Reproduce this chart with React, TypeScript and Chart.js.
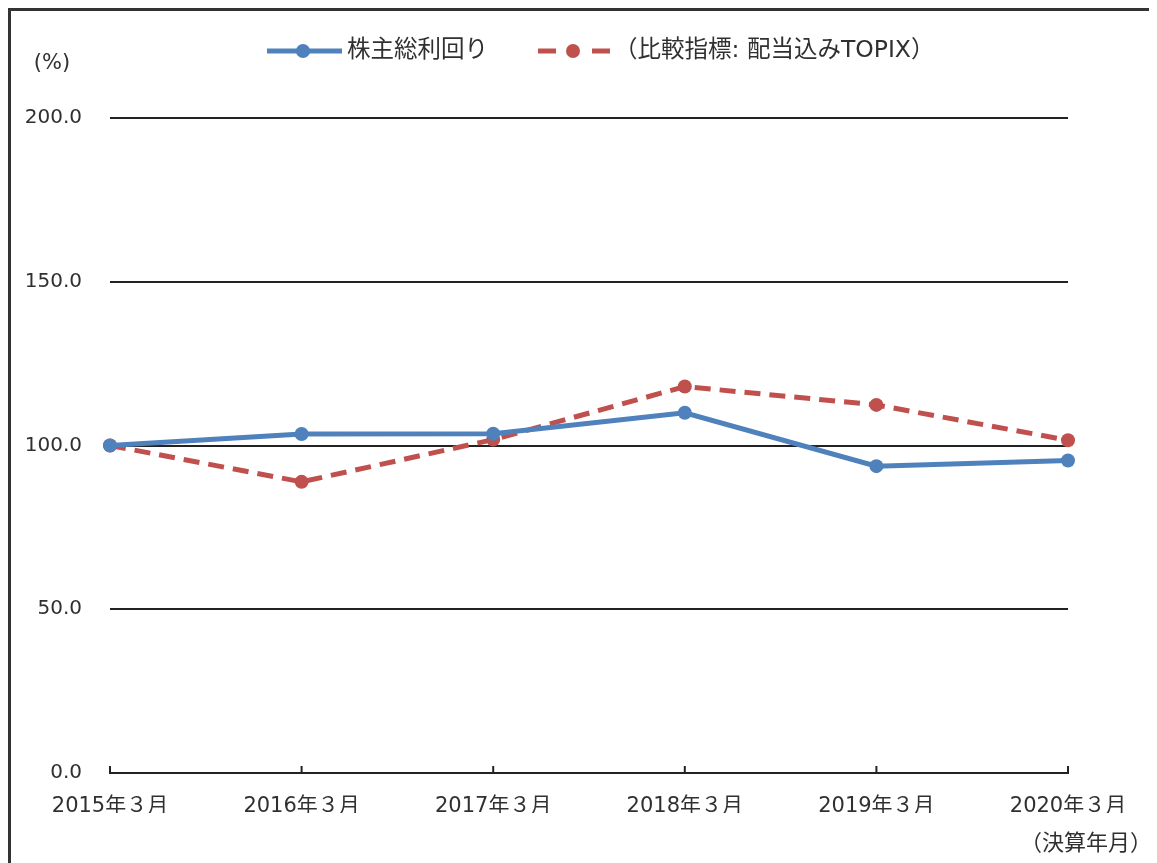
import React, { useEffect, useRef } from "react";
import { Chart, registerables } from "chart.js";

Chart.register(...registerables);

const categories = ["2015年３月", "2016年３月", "2017年３月", "2018年３月", "2019年３月", "2020年３月"];
const tsrValues = [100, 103.5, 103.6, 110.0, 93.7, 95.4];
const topixValues = [100, 88.9, 101.8, 118.0, 112.4, 101.6];
const seriesNames = ["株主総利回り", "（比較指標: 配当込みTOPIX）"];
const yTicks = [0, 50, 100, 150, 200];
const yUnitLabel = "(%)";
const xUnitLabel = "（決算年月）";

const BLUE = "#4F81BD";
const RED = "#C0504D";
const TEXT = "#303030";
const FONT = "'DejaVu Sans', 'Noto Sans CJK JP', sans-serif";

const extrasPlugin = {
  id: "extras",
  afterDraw(chart: any) {
    const ctx = chart.ctx;
    const x = chart.scales.x;
    const area = chart.chartArea;
    ctx.save();
    // upward tick marks on x axis
    ctx.strokeStyle = "#222";
    ctx.lineWidth = 2;
    x.ticks.forEach((_t: any, i: number) => {
      const px = x.getPixelForTick(i);
      ctx.beginPath();
      ctx.moveTo(px, area.bottom);
      ctx.lineTo(px, area.bottom - 7);
      ctx.stroke();
    });
    // legend
    const ly = 40;
    ctx.lineCap = "butt";
    ctx.strokeStyle = BLUE;
    ctx.lineWidth = 5;
    ctx.beginPath();
    ctx.moveTo(256, ly);
    ctx.lineTo(331, ly);
    ctx.stroke();
    ctx.fillStyle = BLUE;
    ctx.beginPath();
    ctx.arc(292, ly, 7, 0, Math.PI * 2);
    ctx.fill();
    ctx.strokeStyle = RED;
    ctx.setLineDash([18, 36]);
    ctx.beginPath();
    ctx.moveTo(527, ly);
    ctx.lineTo(599, ly);
    ctx.stroke();
    ctx.setLineDash([]);
    ctx.fillStyle = RED;
    ctx.beginPath();
    ctx.arc(562, ly, 7, 0, Math.PI * 2);
    ctx.fill();
    ctx.fillStyle = TEXT;
    ctx.font = `23.5px ${FONT}`;
    ctx.textBaseline = "middle";
    ctx.textAlign = "left";
    ctx.fillText(seriesNames[0], 336, ly);
    ctx.fillText(seriesNames[1], 603, ly);
    // unit labels
    ctx.font = `21px ${FONT}`;
    ctx.textAlign = "center";
    ctx.fillText(yUnitLabel, 41, 53);
    ctx.font = `22px ${FONT}`;
    ctx.textAlign = "right";
    ctx.fillText(xUnitLabel, 1141, 833);
    ctx.restore();
  },
};

export default function App() {
  const ref = useRef<HTMLCanvasElement>(null);
  useEffect(() => {
    if (!ref.current) return;
    const chart = new Chart(ref.current, {
      type: "line",
      data: {
        labels: categories,
        datasets: [
          {
            label: seriesNames[0],
            data: tsrValues,
            borderColor: BLUE,
            backgroundColor: BLUE,
            borderWidth: 5,
            pointRadius: 7,
            pointBorderWidth: 0,
            pointBackgroundColor: BLUE,
            tension: 0,
          },
          {
            label: seriesNames[1],
            data: topixValues,
            borderColor: RED,
            backgroundColor: RED,
            borderWidth: 5,
            borderDash: [16, 9],
            pointRadius: 7,
            pointBorderWidth: 0,
            pointBackgroundColor: RED,
            tension: 0,
          },
        ],
      },
      options: {
        animation: false,
        responsive: false,
        maintainAspectRatio: false,
        layout: { padding: { top: 107, right: 89, bottom: 50, left: 0 } },
        plugins: { legend: { display: false }, tooltip: { enabled: false }, title: { display: false } },
        scales: {
          x: {
            type: "category",
            offset: false,
            grid: { display: false, drawTicks: false },
            border: { display: true, color: "#222", width: 2 },
            ticks: {
              color: TEXT,
              font: { family: FONT, size: 21 },
              padding: 21,
              maxRotation: 0,
              autoSkip: false,
            },
            afterFit: (s: any) => {
              s.height = 40;
            },
          },
          y: {
            min: 0,
            max: 200,
            afterBuildTicks: (s: any) => {
              s.ticks = yTicks.map((v) => ({ value: v }));
            },
            grid: { color: "#222", lineWidth: 2, drawTicks: false },
            border: { display: false },
            ticks: {
              color: TEXT,
              font: { family: FONT, size: 20 },
              padding: 28,
              callback: (v: any) => Number(v).toFixed(1),
            },
            afterFit: (s: any) => {
              s.width = 99;
            },
          },
        },
      },
      plugins: [extrasPlugin],
    });
    return () => chart.destroy();
  }, []);
  return (
    <div
      style={{
        width: 1149,
        height: 855,
        boxSizing: "border-box",
        borderTop: "3px solid #333",
        borderLeft: "3px solid #333",
        overflow: "hidden",
        background: "#fff",
      }}
    >
      <canvas ref={ref} width={1146} height={852} style={{ display: "block", width: 1146, height: 852 }} />
    </div>
  );
}
